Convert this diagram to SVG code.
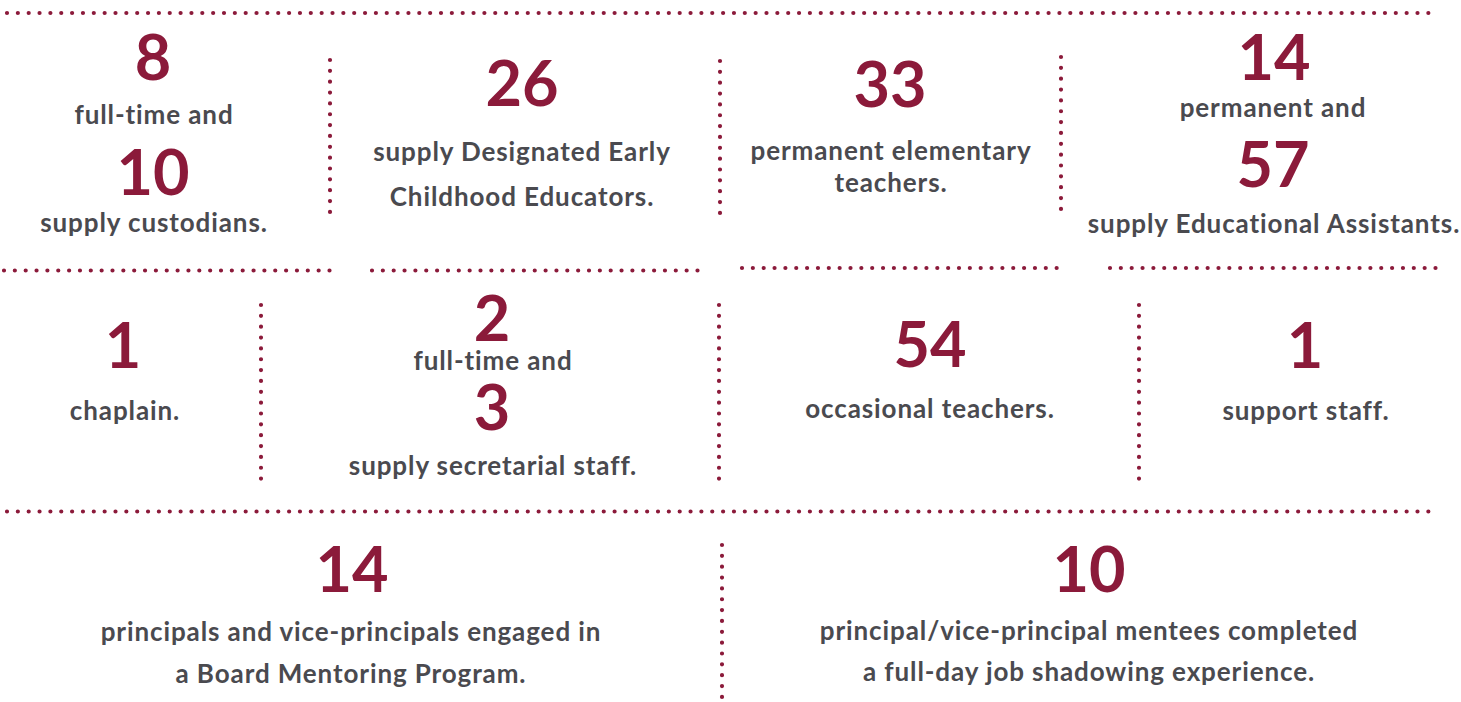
<svg xmlns="http://www.w3.org/2000/svg" width="1461" height="702" viewBox="0 0 1461 702">
<style>
.dot{stroke:#8b1a3a;stroke-width:4.2;stroke-linecap:round;stroke-dasharray:0 10.85;fill:none}
.n{font-family:Lato,"Liberation Sans",sans-serif;font-weight:700;font-size:63px;fill:#8b1a3a;text-anchor:middle}
.t{font-family:Lato,"Liberation Sans",sans-serif;font-weight:700;font-size:26px;letter-spacing:0.9px;fill:#4a4a4f;text-anchor:middle}
</style>
<rect width="1461" height="702" fill="#ffffff"/>
<g id="connectors">
<line class="dot" x1="7" y1="13" x2="1436" y2="13"/>
<line class="dot" x1="4" y1="270.5" x2="330" y2="270.5"/>
<line class="dot" x1="372" y1="270.5" x2="698" y2="270.5"/>
<line class="dot" x1="742" y1="268" x2="1067" y2="268"/>
<line class="dot" x1="1110" y1="268" x2="1437" y2="268"/>
<line class="dot" x1="7" y1="511.5" x2="1436" y2="511.5"/>
<line class="dot" x1="330" y1="60" x2="330" y2="216"/>
<line class="dot" x1="720" y1="61" x2="720" y2="217"/>
<line class="dot" x1="1061" y1="57" x2="1061" y2="213"/>
<line class="dot" x1="261" y1="305" x2="261" y2="481"/>
<line class="dot" x1="719" y1="305" x2="719" y2="481"/>
<line class="dot" x1="1139" y1="305" x2="1139" y2="481"/>
<line class="dot" x1="722" y1="545" x2="722" y2="702"/>
</g>
<g id="custodians">
<text class="n" x="153" y="80">8</text>
<text class="t" x="154" y="124">full-time and</text>
<text class="n" x="153" y="195">10</text>
<text class="t" x="154" y="232">supply custodians.</text>
</g>
<g id="dece">
<text class="n" x="522" y="106">26</text>
<text class="t" x="522" y="161">supply Designated Early</text>
<text class="t" x="522" y="206">Childhood Educators.</text>
</g>
<g id="elementary">
<text class="n" x="890" y="107">33</text>
<text class="t" x="891" y="160">permanent elementary</text>
<text class="t" x="891" y="192">teachers.</text>
</g>
<g id="ea">
<text class="n" x="1274" y="80">14</text>
<text class="t" x="1273" y="117">permanent and</text>
<text class="n" x="1273" y="187">57</text>
<text class="t" x="1274" y="233">supply Educational Assistants.</text>
</g>
<g id="chaplain">
<text class="n" x="123" y="368">1</text>
<text class="t" x="125" y="420">chaplain.</text>
</g>
<g id="secretarial">
<text class="n" x="492" y="341">2</text>
<text class="t" x="493" y="370">full-time and</text>
<text class="n" x="492" y="430">3</text>
<text class="t" x="493" y="475">supply secretarial staff.</text>
</g>
<g id="occasional">
<text class="n" x="930" y="367">54</text>
<text class="t" x="930" y="418">occasional teachers.</text>
</g>
<g id="support">
<text class="n" x="1305" y="368">1</text>
<text class="t" x="1306" y="420">support staff.</text>
</g>
<g id="mentoring">
<text class="n" x="352" y="592">14</text>
<text class="t" x="351" y="641">principals and vice-principals engaged in</text>
<text class="t" x="351" y="683">a Board Mentoring Program.</text>
</g>
<g id="shadowing">
<text class="n" x="1089" y="592">10</text>
<text class="t" x="1089" y="640">principal/vice-principal mentees completed</text>
<text class="t" x="1089" y="681">a full-day job shadowing experience.</text>
</g>
</svg>
